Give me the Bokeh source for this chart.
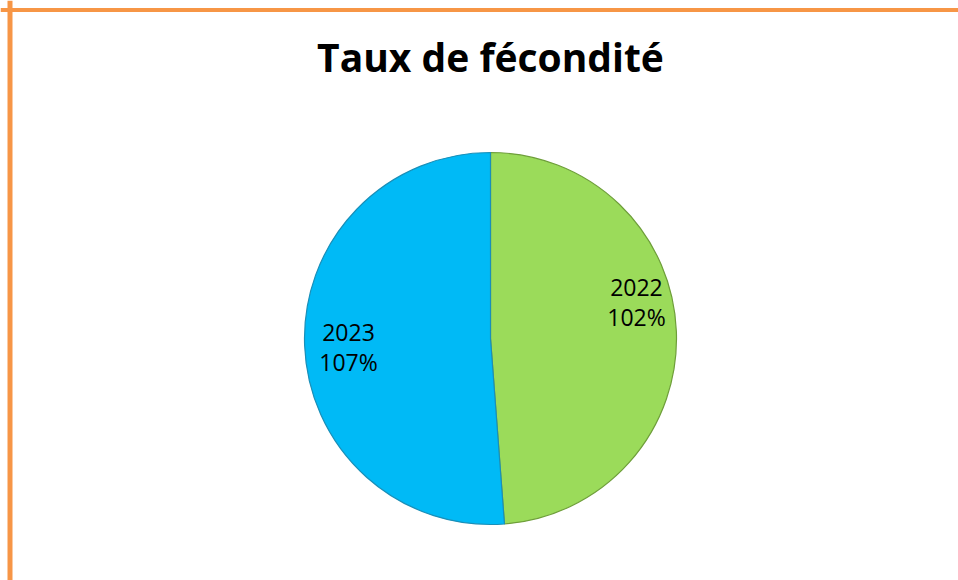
import math
from bokeh.plotting import figure
from bokeh.models import Range1d, Span
from bokeh.core.properties import value
from bokeh.embed import file_html
from bokeh.resources import INLINE

# ---- data ----
title_text = "Taux de fécondité"
categories = ["2022", "2023"]
values = [102, 107]
value_labels = ["102%", "107%"]
colors = ["#9BDB5A", "#00BAF6"]
edge_colors = ["#6E9E3A", "#1A8FB8"]

# ---- layout ----
W, H = 958, 580
cx, cy, r = 490, 242, 186
label_r = 0.78
label_nudge = [(1, 31), (3, -3)]

p = figure(width=W, height=H, output_backend="svg", toolbar_location=None,
           x_range=Range1d(0, W), y_range=Range1d(0, H), min_border=0)
p.axis.visible = False
p.grid.visible = False
p.outline_line_color = None
p.background_fill_color = "white"
p.border_fill_color = "white"

total = sum(values)
start = math.pi / 2
lx, ly, texts = [], [], []
for cat, v, vl, c, ec, nd in zip(categories, values, value_labels, colors, edge_colors, label_nudge):
    sweep = 2 * math.pi * v / total
    end = start - sweep
    p.wedge(x=cx, y=cy, radius=r, start_angle=end, end_angle=start,
            fill_color=c, line_color=ec, line_width=1.2)
    mid = (start + end) / 2
    lx.append(cx + label_r * r * math.cos(mid) + nd[0])
    ly.append(cy + label_r * r * math.sin(mid) + nd[1])
    texts.append(f"{cat}\n{vl}")
    start = end

p.text(x=lx, y=ly, text=texts, text_align="center", text_baseline="middle",
       text_font=value("Open Sans"), text_font_size="23px", text_color="#000000",
       text_line_height=0.95)

p.text(x=[cx], y=[H - 56], text=[title_text], text_align="center", text_baseline="middle",
       text_font=value("Open Sans"), text_font_style="bold", text_font_size="39px",
       text_color="#000000")

p.add_layout(Span(location=9.5, dimension="height", line_color="#F79646", line_width=5))
p.add_layout(Span(location=H - 9.5, dimension="width", line_color="#F79646", line_width=4))

open("out.html", "w").write(file_html(p, INLINE))
